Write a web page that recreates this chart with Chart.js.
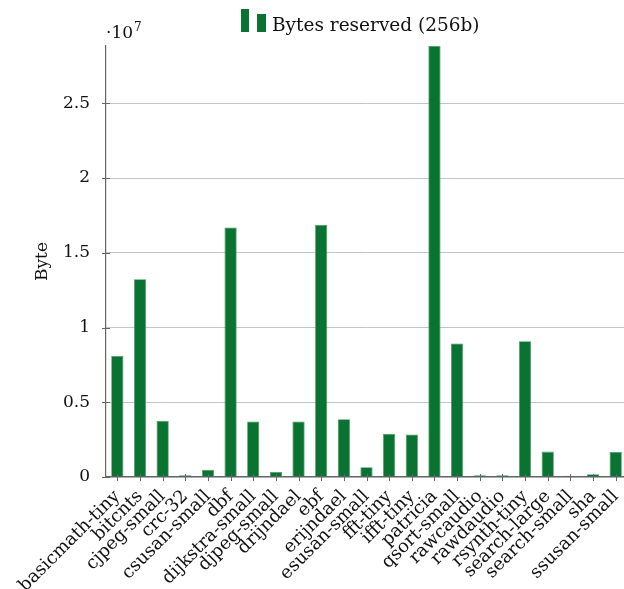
<!DOCTYPE html>
<html>
<head>
<meta charset="utf-8">
<script src="https://cdn.jsdelivr.net/npm/chart.js@4"></script>
<style>
  html, body { margin: 0; padding: 0; background: #fff; overflow: hidden; }
  #wrap { position: relative; width: 632px; height: 589px; }
</style>
</head>
<body>
<div id="wrap"><canvas id="chart"></canvas></div>
<script>
const benchmarks = ["basicmath-tiny", "bitcnts", "cjpeg-small", "crc-32", "csusan-small", "dbf",
  "dijkstra-small", "djpeg-small", "drijndael", "ebf", "erijndael", "esusan-small", "fft-tiny",
  "ifft-tiny", "patricia", "qsort-small", "rawcaudio", "rawdaudio", "rsynth-tiny", "search-large",
  "search-small", "sha", "ssusan-small"];
const bytesReserved = [8100000, 13230000, 3750000, 120000, 490000, 16690000,
  3710000, 330000, 3710000, 16870000, 3860000, 650000, 2900000,
  2850000, 28830000, 8930000, 110000, 110000, 9080000, 1700000,
  80000, 180000, 1680000];
const yTicks = [0, 0.5e7, 1e7, 1.5e7, 2e7, 2.5e7];

const SERIF = "'DejaVu Serif', serif";
const GREEN = "#0b7332";

// pgfplots-like decorations: crossing ticks, exponent label, y title, legend
const decor = {
  id: "decor",
  afterDraw(chart) {
    const c = chart.ctx, a = chart.chartArea;
    const xs = chart.scales.x, ys = chart.scales.y;
    c.save();
    c.strokeStyle = "#666";
    c.lineWidth = 1;
    benchmarks.forEach((b, i) => {
      const px = Math.round(xs.getPixelForValue(i)) + 0.5;
      c.beginPath(); c.moveTo(px, a.bottom - 3); c.lineTo(px, a.bottom + 4); c.stroke();
    });
    yTicks.forEach(v => {
      const py = Math.round(ys.getPixelForValue(v)) + 0.5;
      c.beginPath(); c.moveTo(a.left - 4, py); c.lineTo(a.left + 4, py); c.stroke();
    });
    c.fillStyle = "#111";
    c.font = "17px " + SERIF;
    c.textBaseline = "alphabetic";
    c.textAlign = "left";
    c.fillText("\u00b710", 106, 38);
    c.font = "12px " + SERIF;
    c.fillText("7", 134, 31);
    c.save();
    c.translate(47, (a.top + a.bottom) / 2);
    c.rotate(-Math.PI / 2);
    c.textAlign = "center";
    c.font = "17px " + SERIF;
    c.fillText("Byte", 0, 0);
    c.restore();
    c.fillStyle = GREEN;
    c.fillRect(241, 9, 8, 23);
    c.fillRect(257, 14, 9, 18);
    c.fillStyle = "#111";
    c.font = "18.5px " + SERIF;
    c.fillText("Bytes reserved (256b)", 272, 31);
    c.restore();
  }
};

new Chart(document.getElementById("chart"), {
  type: "bar",
  data: {
    labels: benchmarks,
    datasets: [{
      label: "Bytes reserved (256b)",
      data: bytesReserved,
      backgroundColor: GREEN,
      borderColor: "#4a9a66",
      borderWidth: 0.8,
      barPercentage: 0.54,
      categoryPercentage: 1.0
    }]
  },
  options: {
    responsive: true,
    maintainAspectRatio: false,
    animation: false,
    layout: { padding: { top: 46, left: 0, right: 5, bottom: 0 } },
    plugins: { legend: { display: false }, tooltip: { enabled: false } },
    scales: {
      x: {
        offset: true,
        grid: { display: false, drawTicks: false },
        border: { color: "#666", width: 1.2 },
        ticks: {
          color: "#111",
          font: { family: SERIF, size: 18 },
          maxRotation: 45, minRotation: 45,
          autoSkip: false,
          padding: 9
        },
        afterFit(scale) {
          scale.height = 112;
          scale.paddingLeft = 0;
          scale.paddingRight = 0;
        }
      },
      y: {
        min: 0,
        max: 28830000,
        afterBuildTicks(scale) { scale.ticks = yTicks.map(v => ({ value: v })); },
        grid: { color: "#c4c4c4", lineWidth: 1, drawTicks: false },
        border: { color: "#666", width: 1.2 },
        ticks: {
          color: "#111",
          font: { family: SERIF, size: 17 },
          padding: 16,
          callback: v => String(v / 1e7)
        },
        afterFit(scale) {
          scale.width = 106;
          scale.paddingTop = 0;
          scale.paddingBottom = 0;
        }
      }
    }
  },
  plugins: [decor]
});
</script>
</body>
</html>
